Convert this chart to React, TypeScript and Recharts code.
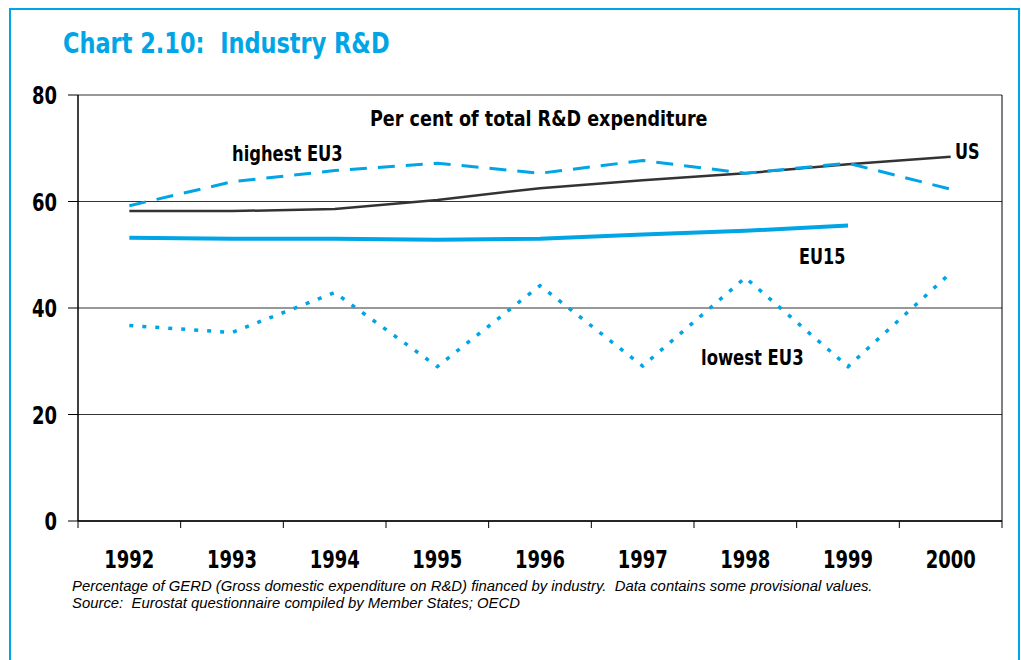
import { LineChart, Line, XAxis, YAxis, CartesianGrid, ReferenceLine } from "recharts";

const years = [1992, 1993, 1994, 1995, 1996, 1997, 1998, 1999, 2000];
const us = [58.2, 58.2, 58.6, 60.3, 62.5, 64.0, 65.3, 67.0, 68.4];
const highestEU3 = [59.2, 63.7, 65.8, 67.2, 65.3, 67.7, 65.3, 67.2, 62.3];
const eu15 = [53.2, 53.0, 53.0, 52.8, 53.0, 53.8, 54.5, 55.5, null];
const lowestEU3 = [36.7, 35.4, 42.9, 29.0, 44.2, 29.1, 45.7, 29.0, 46.6];
const yTicks = [0, 20, 40, 60, 80];

const title = "Chart 2.10:  Industry R&D";
const subtitle = "Per cent of total R&D expenditure";
const footnote1 =
  "Percentage of GERD (Gross domestic expenditure on R&D) financed by industry.  Data contains some provisional values.";
const footnote2 = "Source:  Eurostat questionnaire compiled by Member States; OECD";

const CYAN = "#00a5e6";
const FONT = '"Liberation Sans Narrow", "DejaVu Sans Condensed", "Arial Narrow", sans-serif';

const data = years.map((y, i) => ({
  year: y,
  us: us[i],
  high: highestEU3[i],
  eu15: eu15[i],
  low: lowestEU3[i],
}));

// boundaries between years carry the tick marks, years carry the labels
const bounds = [...years.map((y) => y - 0.5), years[years.length - 1] + 0.5];
const xTicks = [...bounds, ...years].sort((a, b) => a - b);

function XTick(props: any) {
  const { x, y, payload } = props;
  const v = payload.value;
  if (Number.isInteger(v)) {
    return (
      <text
        x={x}
        y={y + 47}
        textAnchor="middle"
        fontFamily={FONT}
        fontWeight="bold"
        fontSize={25}
        fill="#000"
        textLength={50}
        lengthAdjust="spacingAndGlyphs"
      >
        {v}
      </text>
    );
  }
  return <line x1={x} x2={x} y1={y} y2={y + 7} stroke="#000" strokeWidth={1} />;
}

function YTick(props: any) {
  const { x, y, payload } = props;
  const s = String(payload.value);
  return (
    <text
      x={x}
      y={y + 9}
      textAnchor="end"
      fontFamily={FONT}
      fontWeight="bold"
      fontSize={25}
      fill="#000"
      textLength={s.length * 12.5}
      lengthAdjust="spacingAndGlyphs"
    >
      {s}
    </text>
  );
}

const label = (left: number, top: number, text: string, scale: number, size = 21) => (
  <div
    style={{
      position: "absolute",
      left,
      top,
      fontFamily: FONT,
      fontWeight: "bold",
      fontSize: size,
      lineHeight: 1,
      whiteSpace: "pre",
      color: "#000",
      transform: `scaleX(${scale})`,
      transformOrigin: "left top",
    }}
  >
    {text}
  </div>
);

export default function App() {
  return (
    <div
      style={{
        position: "absolute",
        left: 0,
        top: 0,
        width: 1021,
        height: 660,
        overflow: "hidden",
        background: "#fff",
      }}
    >
      <div
        style={{
          position: "absolute",
          left: 9,
          top: 8,
          width: 1007,
          height: 700,
          border: `2px solid ${CYAN}`,
        }}
      />
      <div
        style={{
          position: "absolute",
          left: 63,
          top: 29,
          fontFamily: FONT,
          fontWeight: "bold",
          fontSize: 29,
          lineHeight: 1,
          color: CYAN,
          whiteSpace: "pre",
          transform: "scaleX(0.86)",
          transformOrigin: "left top",
        }}
      >
        {title}
      </div>
      <div style={{ position: "absolute", left: 0, top: 0 }}>
        <LineChart
          width={1021}
          height={660}
          data={data}
          margin={{ top: 95, right: 19, left: 0, bottom: 0 }}
        >
          <CartesianGrid horizontal vertical={false} stroke="#333" strokeWidth={1} />
          <XAxis
            dataKey="year"
            type="number"
            domain={[bounds[0], bounds[bounds.length - 1]]}
            ticks={xTicks}
            interval={0}
            tick={<XTick />}
            tickLine={false}
            tickSize={0}
            tickMargin={0}
            height={139}
            axisLine={{ stroke: "#000", strokeWidth: 1.5 }}
          />
          <YAxis
            domain={[0, 80]}
            ticks={yTicks}
            interval={0}
            width={78}
            tickSize={10}
            tickMargin={11}
            tickLine={{ stroke: "#000" }}
            axisLine={{ stroke: "#000", strokeWidth: 1.5 }}
            tick={<YTick />}
          />
          <ReferenceLine x={bounds[bounds.length - 1]} stroke="#000" strokeWidth={1} />
          <Line
            dataKey="low"
            type="linear"
            stroke={CYAN}
            strokeWidth={3.5}
            strokeDasharray="4 9"
            dot={false}
            isAnimationActive={false}
          />
          <Line
            dataKey="eu15"
            type="linear"
            stroke={CYAN}
            strokeWidth={4}
            dot={false}
            isAnimationActive={false}
          />
          <Line
            dataKey="us"
            type="linear"
            stroke="#333"
            strokeWidth={2.5}
            dot={false}
            isAnimationActive={false}
          />
          <Line
            dataKey="high"
            type="linear"
            stroke={CYAN}
            strokeWidth={3}
            strokeDasharray="17 11"
            dot={false}
            isAnimationActive={false}
          />
        </LineChart>
      </div>
      {label(370, 109, subtitle, 0.93)}
      {label(232, 144, "highest EU3", 0.865)}
      {label(955, 142, "US", 0.85)}
      {label(799, 247, "EU15", 0.85)}
      {label(701, 348, "lowest EU3", 0.87)}
      <div
        style={{
          position: "absolute",
          left: 72,
          top: 578,
          fontFamily: '"Liberation Sans", Arial, sans-serif',
          fontStyle: "italic",
          fontSize: 14,
          lineHeight: "17px",
          color: "#000",
          whiteSpace: "pre",
          transform: "scaleX(1.062)",
          transformOrigin: "left top",
        }}
      >
        <div>{footnote1}</div>
        <div>{footnote2}</div>
      </div>
    </div>
  );
}
